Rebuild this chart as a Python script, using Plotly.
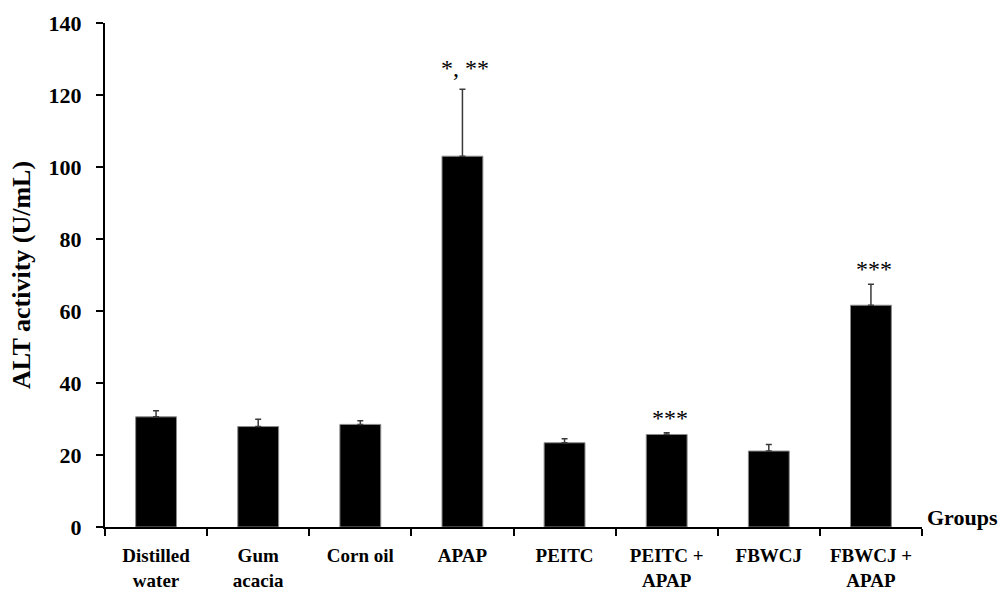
import plotly.graph_objects as go

# ALT activity per treatment group (mean + SD, U/mL)
groups = ["Distilled<br>water", "Gum<br>acacia", "Corn oil", "APAP", "PEITC",
          "PEITC +<br>APAP", "FBWCJ", "FBWCJ +<br>APAP"]
means = [30.6, 27.9, 28.5, 103.0, 23.4, 25.7, 21.1, 61.6]
sds = [1.7, 2.0, 1.0, 18.6, 1.1, 0.5, 1.8, 5.8]
marks = ["", "", "", "*, **", "", "***", "", "***"]
y_ticks = [0, 20, 40, 60, 80, 100, 120, 140]

SERIF = "Liberation Serif"

fig = go.Figure()
fig.add_trace(go.Bar(
    x=groups,
    y=means,
    marker=dict(color="black", line=dict(color="#8a8a8a", width=1)),
    error_y=dict(type="data", symmetric=False, array=sds,
                 arrayminus=[0] * len(sds),
                 color="#3a3a3a", thickness=1.5, width=3),
    showlegend=False,
))

# significance marks sit a little above each error-bar cap
lift = {"*, **": 6, "***": 0}
for g, m, s, lab in zip(groups, means, sds, marks):
    if lab:
        fig.add_annotation(x=g, y=m + s, text=lab, showarrow=False,
                           yanchor="bottom", yshift=lift[lab], xshift=3,
                           font=dict(family=SERIF, size=24, color="black"))

fig.add_annotation(x=1, xref="paper", y=0, yref="paper", text="Groups",
                   showarrow=False, xanchor="left", yanchor="bottom",
                   xshift=3, yshift=-5,
                   font=dict(family=SERIF, size=22, color="black", weight="bold"))

fig.update_layout(
    width=1004, height=590,
    margin=dict(l=105, r=82, t=23, b=63),
    plot_bgcolor="white", paper_bgcolor="white",
    bargap=0.6,
    font=dict(family=SERIF, color="black"),
)
fig.update_xaxes(
    showline=True, linecolor="black", linewidth=2, automargin=False,
    ticks="outside", tickson="boundaries", ticklen=7, tickwidth=2,
    tickcolor="black", showgrid=False, ticklabelstandoff=10,
    tickfont=dict(family=SERIF, size=19, color="black", weight="bold"),
)
fig.update_yaxes(
    range=[0, 140], tickvals=y_ticks, automargin=False,
    showline=True, linecolor="black", linewidth=2,
    ticks="outside", ticklen=7, tickwidth=2, tickcolor="black",
    showgrid=False, zeroline=False, ticklabelstandoff=10,
    tickfont=dict(family=SERIF, size=22, color="black", weight="bold"),
    title=dict(text="ALT activity (U/mL)", standoff=10,
               font=dict(family=SERIF, size=26, color="black", weight="bold")),
)

fig.write_html("out.html")
